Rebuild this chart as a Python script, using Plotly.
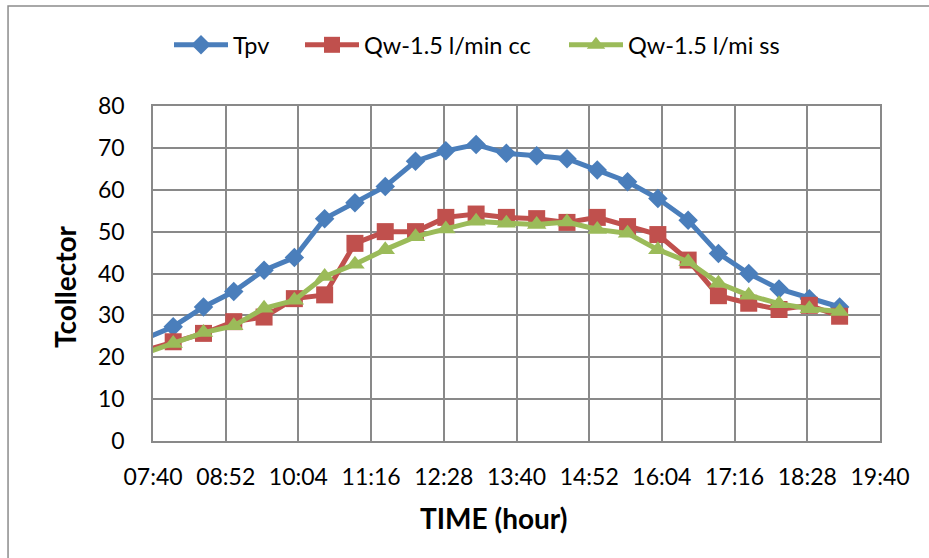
import plotly.graph_objects as go

times = ["07:30", "08:00", "08:30", "09:00", "09:30", "10:00", "10:30", "11:00", "11:30",
         "12:00", "12:30", "13:00", "13:30", "14:00", "14:30", "15:00", "15:30", "16:00",
         "16:30", "17:00", "17:30", "18:00", "18:30", "19:00"]
tpv = [24.2, 27.3, 32.0, 35.7, 40.8, 43.8, 53.1, 56.9, 60.8, 66.8, 69.3, 70.8, 68.7, 68.1,
       67.4, 64.7, 61.9, 57.9, 52.7, 44.8, 40.0, 36.3, 34.0, 32.0]
qw_cc = [21.5, 23.7, 25.7, 28.5, 29.6, 34.0, 34.9, 47.2, 50.0, 50.0, 53.4, 54.2, 53.4, 53.1,
         52.2, 53.4, 51.2, 49.3, 43.2, 34.7, 32.9, 31.4, 32.4, 29.8]
qw_ss = [20.8, 23.3, 25.9, 27.5, 31.7, 33.6, 39.3, 42.2, 45.7, 48.8, 50.6, 52.5, 52.0, 51.7,
         52.3, 50.5, 49.6, 45.7, 42.8, 37.7, 34.8, 32.8, 31.6, 30.9]
tick_labels = ["07:40", "08:52", "10:04", "11:16", "12:28", "13:40", "14:52", "16:04",
               "17:16", "18:28", "19:40"]

day = "2000-01-01 "
x = [day + t for t in times]
tickvals = [day + t for t in tick_labels]

FONT = "Lato"
GRID = "#898989"
LW = 5

fig = go.Figure()
fig.add_trace(go.Scatter(x=x, y=tpv, name="Tpv", mode="lines+markers", legend="legend",
                         line=dict(color="#4A7EBB", width=LW),
                         marker=dict(symbol="diamond", size=15, color="#4A7EBB")))
fig.add_trace(go.Scatter(x=x, y=qw_cc, name="Qw-1.5 l/min cc", mode="lines+markers",
                         legend="legend2",
                         line=dict(color="#C0504D", width=LW),
                         marker=dict(symbol="square", size=17, color="#C0504D")))
fig.add_trace(go.Scatter(x=x, y=qw_ss, name="Qw-1.5 l/mi ss", mode="lines+markers",
                         legend="legend3",
                         line=dict(color="#9BBB59", width=LW),
                         marker=dict(symbol="triangle-up", size=17, color="#9BBB59")))

W_PLOT = 727.0
def px_x(px):
    return (px - 153) / W_PLOT

leg_common = dict(orientation="h", y=1.182, xanchor="left", yanchor="middle",
                  font=dict(family=FONT, size=23.5), itemwidth=54,
                  bgcolor="rgba(0,0,0,0)")

fig.update_layout(
    width=929, height=558,
    margin=dict(l=153, r=49, t=106, b=117),
    paper_bgcolor="white", plot_bgcolor="white",
    font=dict(family=FONT, size=23, color="black"),
    showlegend=True,
    legend=dict(x=px_x(169), **leg_common),
    legend2=dict(x=px_x(300), **leg_common),
    legend3=dict(x=px_x(564), **leg_common),
    xaxis=dict(type="date", range=[day + "07:40", day + "19:40"],
               tickmode="array", tickvals=tickvals, ticktext=tick_labels,
               showgrid=True, gridcolor=GRID, gridwidth=1.5,
               showline=True, linecolor=GRID, linewidth=1.5, mirror=True,
               ticks="", ticklabelstandoff=15, zeroline=False),
    yaxis=dict(range=[0, 80], dtick=10, showgrid=True, gridcolor=GRID, gridwidth=1.5,
               showline=True, linecolor=GRID, linewidth=1.5, mirror=True,
               ticks="", ticklabelstandoff=22, zeroline=False),
    annotations=[
        dict(text="<b>Tcollector</b>", xref="paper", yref="paper", x=-0.121, y=0.46,
             showarrow=False, textangle=-90, font=dict(family=FONT, size=28),
             xanchor="center", yanchor="middle"),
        dict(text="<b>TIME (hour)</b>", xref="paper", yref="paper", x=0.4677, y=-0.2299,
             showarrow=False, font=dict(family=FONT, size=28),
             xanchor="center", yanchor="middle"),
    ],
    shapes=[dict(type="rect", xref="paper", yref="paper", x0=-0.1994, x1=1.3,
                 y0=-0.6, y1=1.2985, line=dict(color="#8C8C8C", width=1.5))],
)

fig.write_html("out.html")
